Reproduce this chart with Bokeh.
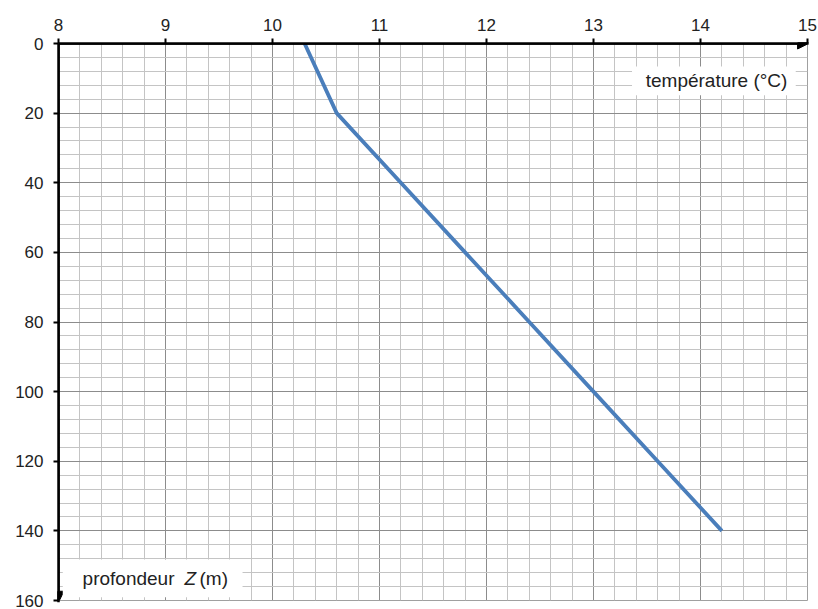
from bokeh.plotting import figure
from bokeh.models import Range1d, FixedTicker, Arrow, NormalHead, Label, BoxAnnotation
from bokeh.embed import file_html
from bokeh.resources import INLINE
import numpy as np

# data
depth_m = [0, 20, 40, 60, 80, 100, 120, 140]
temperature_c = [10.3, 10.6, 11.2, 11.8, 12.4, 13.0, 13.6, 14.2]
x_ticks = [8, 9, 10, 11, 12, 13, 14, 15]
y_ticks = [0, 20, 40, 60, 80, 100, 120, 140, 160]
x_label = "température (°C)"
y_label_parts = ["profondeur", "Z", "(m)"]

FONT = "Liberation Sans"

p = figure(width=818, height=609,
           x_range=Range1d(8, 15), y_range=Range1d(160, 0),
           x_axis_location="above",
           output_backend="svg", toolbar_location=None,
           min_border_left=58, min_border_top=43,
           min_border_bottom=9, min_border_right=11)

p.background_fill_color = "white"
p.border_fill_color = "white"
p.outline_line_color = "#a0a0a0"
p.outline_line_width = 1

x_minor = [round(v, 2) for v in np.arange(8, 15.001, 0.2)]
y_minor = [int(v) for v in np.arange(0, 161, 4)]
p.xaxis.ticker = FixedTicker(ticks=x_ticks, minor_ticks=x_minor)
p.yaxis.ticker = FixedTicker(ticks=y_ticks, minor_ticks=y_minor)

for ax in (p.xaxis, p.yaxis):
    ax.axis_line_color = "black"
    ax.axis_line_width = 2.5
    ax.major_tick_line_color = "black"
    ax.major_tick_line_width = 2
    ax.major_tick_out = 5
    ax.major_tick_in = 0
    ax.minor_tick_line_color = None
    ax.major_label_text_font = FONT
    ax.major_label_text_font_size = "17px"
    ax.major_label_text_color = "#222222"
p.xaxis.major_label_standoff = 8
p.yaxis.major_label_standoff = 10

for g in (p.xgrid, p.ygrid):
    g.grid_line_color = "#8c8c8c"
    g.grid_line_width = 1
    g.minor_grid_line_color = "#c4c4c4"
    g.minor_grid_line_width = 1

# axis arrows
p.add_layout(Arrow(end=NormalHead(size=11, fill_color="black", line_color="black"),
                   x_start=8, y_start=0, x_end=15.01, y_end=0,
                   line_color="black", line_width=2.5))
p.add_layout(Arrow(end=NormalHead(size=11, fill_color="black", line_color="black"),
                   x_start=8, y_start=0, x_end=8, y_end=160.5,
                   line_color="black", line_width=2.5))

# data line
p.line(temperature_c, depth_m, line_color="#4a7ebb", line_width=3.8)

# axis title boxes
p.add_layout(BoxAnnotation(left=13.36, right=14.89, top=6.6, bottom=14.9,
                           fill_color="white", fill_alpha=1, line_color=None))
p.add_layout(Label(x=14.15, y=10.6, text=x_label, text_align="center",
                   text_baseline="middle", text_font=FONT,
                   text_font_size="19px", text_color="#222222"))

p.add_layout(BoxAnnotation(left=8.04, right=9.72, top=148.2, bottom=159.1,
                           fill_color="white", fill_alpha=1, line_color=None))
p.add_layout(Label(x=9.084, y=153.7, text=y_label_parts[0], text_align="right",
                   text_baseline="middle", text_font=FONT,
                   text_font_size="19px", text_color="#222222"))
p.add_layout(Label(x=9.178, y=153.7, text=y_label_parts[1], text_align="left",
                   text_baseline="middle", text_font=FONT, text_font_style="italic",
                   text_font_size="19px", text_color="#222222"))
p.add_layout(Label(x=9.318, y=153.7, text=y_label_parts[2], text_align="left",
                   text_baseline="middle", text_font=FONT,
                   text_font_size="19px", text_color="#222222"))

open("out.html", "w").write(file_html(p, INLINE))
